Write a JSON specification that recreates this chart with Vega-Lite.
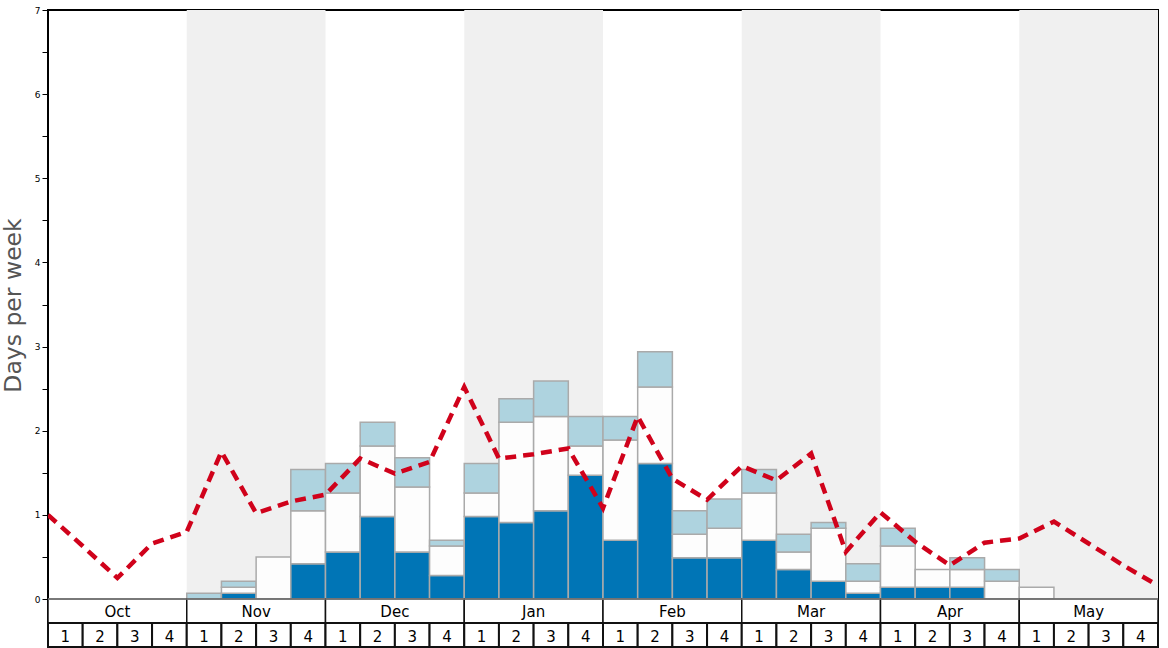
{
  "$schema": "https://vega.github.io/schema/vega-lite/v6.json",
  "width": 1110,
  "height": 637,
  "autosize": {"type": "none"},
  "padding": {"left": 48, "top": 10, "right": 10, "bottom": 1},
  "background": "white",
  "config": {
    "view": {"stroke": "black", "strokeWidth": 2},
    "font": "DejaVu Sans"
  },
  "datasets": {
    "months": [
      {"month": "Oct", "start": 0, "end": 4, "shade": false},
      {"month": "Nov", "start": 4, "end": 8, "shade": true},
      {"month": "Dec", "start": 8, "end": 12, "shade": false},
      {"month": "Jan", "start": 12, "end": 16, "shade": true},
      {"month": "Feb", "start": 16, "end": 20, "shade": false},
      {"month": "Mar", "start": 20, "end": 24, "shade": true},
      {"month": "Apr", "start": 24, "end": 28, "shade": false},
      {"month": "May", "start": 28, "end": 32, "shade": true}
    ],
    "weeks": [
      {"w": 0, "month": "Oct", "n": 1, "dark": 0, "white": 0, "light": 0},
      {"w": 1, "month": "Oct", "n": 2, "dark": 0, "white": 0, "light": 0},
      {"w": 2, "month": "Oct", "n": 3, "dark": 0, "white": 0, "light": 0},
      {"w": 3, "month": "Oct", "n": 4, "dark": 0, "white": 0, "light": 0},
      {"w": 4, "month": "Nov", "n": 1, "dark": 0, "white": 0, "light": 0.07},
      {"w": 5, "month": "Nov", "n": 2, "dark": 0.07, "white": 0.07, "light": 0.07},
      {"w": 6, "month": "Nov", "n": 3, "dark": 0, "white": 0.5, "light": 0},
      {"w": 7, "month": "Nov", "n": 4, "dark": 0.42, "white": 0.63, "light": 0.49},
      {"w": 8, "month": "Dec", "n": 1, "dark": 0.56, "white": 0.7, "light": 0.35},
      {"w": 9, "month": "Dec", "n": 2, "dark": 0.98, "white": 0.84, "light": 0.28},
      {"w": 10, "month": "Dec", "n": 3, "dark": 0.56, "white": 0.77, "light": 0.35},
      {"w": 11, "month": "Dec", "n": 4, "dark": 0.28, "white": 0.35, "light": 0.07},
      {"w": 12, "month": "Jan", "n": 1, "dark": 0.98, "white": 0.28, "light": 0.35},
      {"w": 13, "month": "Jan", "n": 2, "dark": 0.91, "white": 1.19, "light": 0.28},
      {"w": 14, "month": "Jan", "n": 3, "dark": 1.05, "white": 1.12, "light": 0.42},
      {"w": 15, "month": "Jan", "n": 4, "dark": 1.47, "white": 0.35, "light": 0.35},
      {"w": 16, "month": "Feb", "n": 1, "dark": 0.7, "white": 1.19, "light": 0.28},
      {"w": 17, "month": "Feb", "n": 2, "dark": 1.61, "white": 0.91, "light": 0.42},
      {"w": 18, "month": "Feb", "n": 3, "dark": 0.49, "white": 0.28, "light": 0.28},
      {"w": 19, "month": "Feb", "n": 4, "dark": 0.49, "white": 0.35, "light": 0.35},
      {"w": 20, "month": "Mar", "n": 1, "dark": 0.7, "white": 0.56, "light": 0.28},
      {"w": 21, "month": "Mar", "n": 2, "dark": 0.35, "white": 0.21, "light": 0.21},
      {"w": 22, "month": "Mar", "n": 3, "dark": 0.21, "white": 0.63, "light": 0.07},
      {"w": 23, "month": "Mar", "n": 4, "dark": 0.07, "white": 0.14, "light": 0.21},
      {"w": 24, "month": "Apr", "n": 1, "dark": 0.14, "white": 0.49, "light": 0.21},
      {"w": 25, "month": "Apr", "n": 2, "dark": 0.14, "white": 0.21, "light": 0},
      {"w": 26, "month": "Apr", "n": 3, "dark": 0.14, "white": 0.21, "light": 0.14},
      {"w": 27, "month": "Apr", "n": 4, "dark": 0, "white": 0.21, "light": 0.14},
      {"w": 28, "month": "May", "n": 1, "dark": 0, "white": 0.14, "light": 0},
      {"w": 29, "month": "May", "n": 2, "dark": 0, "white": 0, "light": 0},
      {"w": 30, "month": "May", "n": 3, "dark": 0, "white": 0, "light": 0},
      {"w": 31, "month": "May", "n": 4, "dark": 0, "white": 0, "light": 0}
    ],
    "line": [
      {"b": 0, "v": 1.0}, {"b": 1, "v": 0.63}, {"b": 2, "v": 0.25}, {"b": 3, "v": 0.66},
      {"b": 4, "v": 0.8}, {"b": 5, "v": 1.75}, {"b": 6, "v": 1.02}, {"b": 7, "v": 1.16},
      {"b": 8, "v": 1.24}, {"b": 9, "v": 1.67}, {"b": 10, "v": 1.49}, {"b": 11, "v": 1.63},
      {"b": 12, "v": 2.52}, {"b": 13, "v": 1.67}, {"b": 14, "v": 1.72}, {"b": 15, "v": 1.79},
      {"b": 16, "v": 1.08}, {"b": 17, "v": 2.17}, {"b": 18, "v": 1.43}, {"b": 19, "v": 1.18},
      {"b": 20, "v": 1.58}, {"b": 21, "v": 1.41}, {"b": 22, "v": 1.73}, {"b": 23, "v": 0.56},
      {"b": 24, "v": 1.03}, {"b": 25, "v": 0.68}, {"b": 26, "v": 0.4}, {"b": 27, "v": 0.67},
      {"b": 28, "v": 0.72}, {"b": 29, "v": 0.92}, {"b": 30, "v": 0.66}, {"b": 31, "v": 0.4},
      {"b": 32, "v": 0.16}
    ]
  },
  "layer": [
    {
      "data": {"name": "months"},
      "transform": [{"filter": "datum.shade"}],
      "mark": {"type": "rect", "color": "#f0f0f0"},
      "encoding": {
        "x": {"field": "start", "type": "quantitative", "scale": {"domain": [0, 32], "nice": false, "zero": false}, "axis": null},
        "x2": {"field": "end"},
        "y": {
          "datum": 0, "type": "quantitative",
          "scale": {"domain": [-0.57, 7], "nice": false, "zero": false},
          "title": "Days per week",
          "axis": {
            "values": [0, 0.5, 1, 1.5, 2, 2.5, 3, 3.5, 4, 4.5, 5, 5.5, 6, 6.5, 7],
            "labelExpr": "datum.value % 1 === 0 ? format(datum.value, 'd') : ''",
            "domain": false, "grid": false,
            "tickSize": 6, "tickColor": "black", "tickWidth": 1,
            "labelFontSize": 9, "labelFont": "DejaVu Sans", "labelColor": "black", "labelPadding": 2,
            "title": "Days per week", "titleFont": "DejaVu Sans", "titleFontSize": 23.5,
            "titleFontWeight": "normal", "titleColor": "#555555",
            "titleAngle": 270, "titleBaseline": "alphabetic", "titleAlign": "center",
            "titleX": -28, "titleY": 295
          }
        },
        "y2": {"datum": 7}
      }
    },
    {
      "data": {"name": "weeks"},
      "transform": [
        {"fold": ["dark", "white", "light"], "as": ["tier", "days"]},
        {"calculate": "indexof(['dark','white','light'], datum.tier)", "as": "ord"},
        {"stack": "days", "groupby": ["w"], "sort": [{"field": "ord", "order": "ascending"}], "as": ["y0", "y1"]},
        {"filter": "datum.days > 0"},
        {"calculate": "datum.w + 1", "as": "wEnd"}
      ],
      "mark": {"type": "rect", "stroke": "#aaaaaa", "strokeWidth": 1.5},
      "encoding": {
        "x": {"field": "w", "type": "quantitative"},
        "x2": {"field": "wEnd"},
        "y": {"field": "y0", "type": "quantitative", "title": "Days per week"},
        "y2": {"field": "y1"},
        "fill": {"field": "tier", "type": "nominal", "legend": null,
          "scale": {"domain": ["dark", "white", "light"], "range": ["#0075b6", "#fdfdfd", "#aed3df"]}}
      }
    },
    {
      "data": {"name": "line"},
      "mark": {"type": "line", "color": "#d0021b", "strokeWidth": 4.5, "strokeDash": [11, 7], "clip": true},
      "encoding": {
        "x": {"field": "b", "type": "quantitative"},
        "y": {"field": "v", "type": "quantitative", "title": "Days per week"}
      }
    },
    {
      "data": {"name": "months"},
      "mark": {"type": "rect", "fill": "white", "stroke": "#111111", "strokeWidth": 1.5},
      "encoding": {
        "x": {"field": "start", "type": "quantitative"},
        "x2": {"field": "end"},
        "y": {"datum": 0, "type": "quantitative", "title": "Days per week"},
        "y2": {"datum": -0.285}
      }
    },
    {
      "data": {"name": "weeks"},
      "transform": [{"calculate": "datum.w + 1", "as": "wEnd"}],
      "mark": {"type": "rect", "fill": "white", "stroke": "#111111", "strokeWidth": 2},
      "encoding": {
        "x": {"field": "w", "type": "quantitative"},
        "x2": {"field": "wEnd"},
        "y": {"datum": -0.285, "type": "quantitative", "title": "Days per week"},
        "y2": {"datum": -0.57}
      }
    },
    {
      "data": {"name": "months"},
      "mark": {"type": "rule", "color": "#888888", "strokeWidth": 1.5},
      "encoding": {
        "x": {"field": "start", "type": "quantitative"},
        "x2": {"field": "end"},
        "y": {"datum": 0, "type": "quantitative", "title": "Days per week"}
      }
    },
    {
      "data": {"name": "months"},
      "transform": [{"calculate": "(datum.start + datum.end) / 2", "as": "mid"}],
      "mark": {"type": "text", "font": "DejaVu Sans", "fontSize": 15, "color": "black", "baseline": "middle", "dy": 1},
      "encoding": {
        "x": {"field": "mid", "type": "quantitative"},
        "y": {"datum": -0.1425, "type": "quantitative", "title": "Days per week"},
        "text": {"field": "month"}
      }
    },
    {
      "data": {"name": "weeks"},
      "transform": [{"calculate": "datum.w + 0.5", "as": "mid"}],
      "mark": {"type": "text", "font": "DejaVu Sans", "fontSize": 15, "color": "black", "baseline": "middle", "dy": 2},
      "encoding": {
        "x": {"field": "mid", "type": "quantitative"},
        "y": {"datum": -0.4275, "type": "quantitative", "title": "Days per week"},
        "text": {"field": "n"}
      }
    }
  ]
}
